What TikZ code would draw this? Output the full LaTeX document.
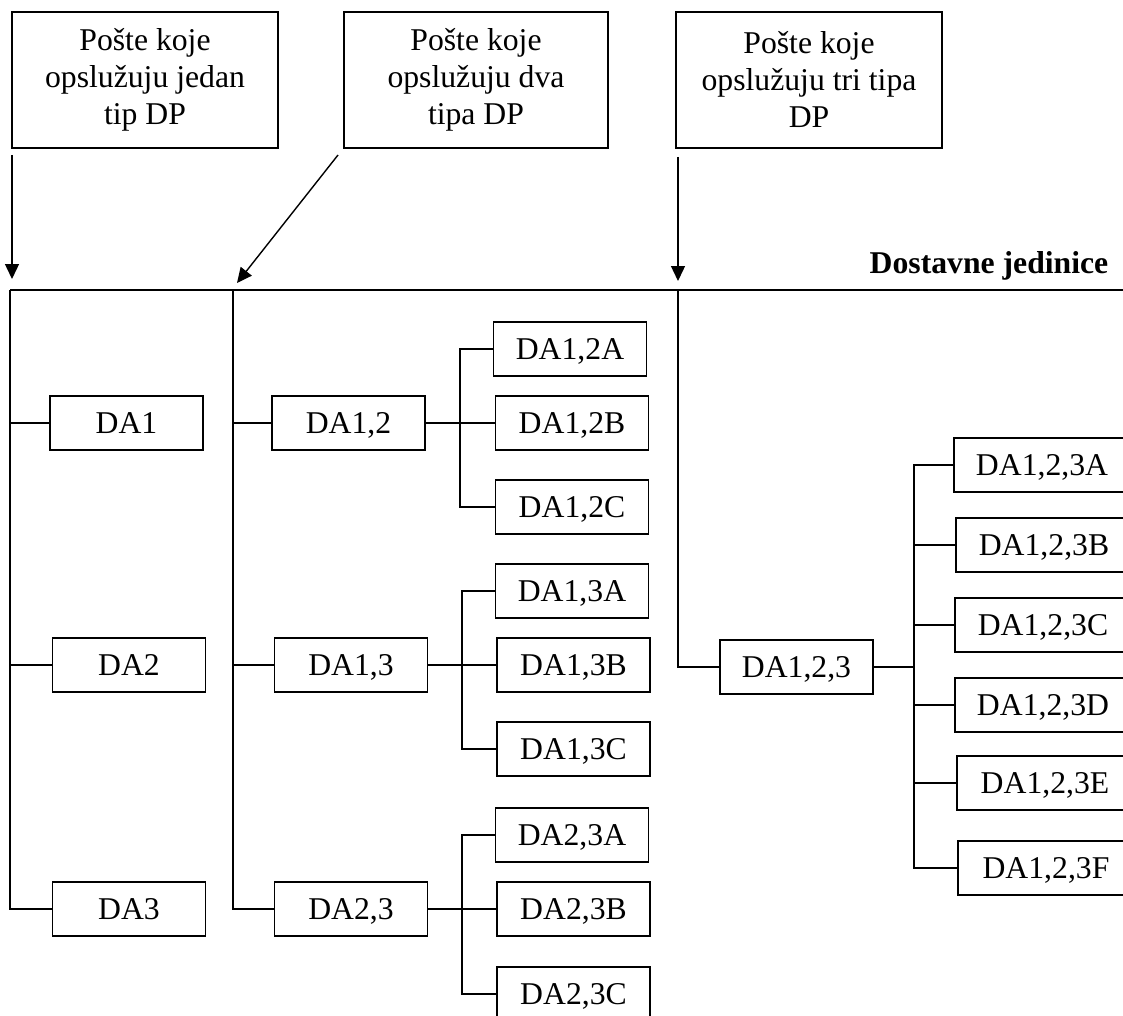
\documentclass[tikz,border=0pt]{standalone}
\usepackage{fontspec}
\setmainfont{Liberation Serif}
\usetikzlibrary{arrows.meta,calc}
\begin{document}
\begin{tikzpicture}[x=1pt,y=-1pt,
  line width=1.4pt,
  da/.style={draw, line width=1.3pt, minimum width=153pt, minimum height=54pt, inner sep=0pt,
    text height=21pt, text depth=0pt, font=\fontsize{31.7}{37}\selectfont},
  dawide/.style={da, minimum width=176pt},
  topbox/.style={draw, line width=1.3pt, minimum height=136pt, inner sep=0pt, align=center,
    font=\fontsize{31.7}{37}\selectfont},
  arr/.style={-{Triangle[length=15pt,width=14pt]}}
]
\useasboundingbox (0,0) rectangle (1123,1016);

% top boxes
\node[topbox, minimum width=266pt] (t1) at (145,80) {Pošte koje\\opslužuju jedan\\tip DP};
\node[topbox, minimum width=264pt] (t2) at (476,80) {Pošte koje\\opslužuju dva\\tipa DP};
\node[topbox, minimum width=266pt] (t3) at (809,80) {Pošte koje\\opslužuju tri tipa\\DP};

% arrows
\coordinate (a1s) at (12,155);  \coordinate (a1e) at (12,279);
\coordinate (a2s) at (338,155); \coordinate (a2e) at (237,283);
\coordinate (a3s) at (678,157); \coordinate (a3e) at (678,281);
\draw[arr] (a1s) -- (a1e);
\draw[arr] (a2s) -- (a2e);
\draw[arr] (a3s) -- (a3e);

% heading and main line
\node[anchor=base east, font=\fontsize{31.7}{37}\selectfont\bfseries, inner sep=0pt] (head) at (1109,273) {Dostavne jedinice};
\coordinate (hL) at (10,290);
\coordinate (hR) at (1130,290);
\draw (hL) -- (hR);
\coordinate (c1) at (10,290);
\coordinate (c2) at (233,290);
\coordinate (c3) at (678,290);

% column 1
\node[da] (n1) at (126.5,423) {DA1};
\node[da] (n2) at (129,665) {DA2};
\node[da] (n3) at (129,909) {DA3};

% column 2
\node[da] (n12) at (348.5,423) {DA1,2};
\node[da] (n13) at (351,665) {DA1,3};
\node[da] (n23) at (351,909) {DA2,3};

\node[da] (n12A) at (570,349) {DA1,2A};
\node[da] (n12B) at (572,423) {DA1,2B};
\node[da] (n12C) at (572,507) {DA1,2C};
\node[da] (n13A) at (572,591) {DA1,3A};
\node[da] (n13B) at (573.5,665) {DA1,3B};
\node[da] (n13C) at (573.5,749) {DA1,3C};
\node[da] (n23A) at (572,835) {DA2,3A};
\node[da] (n23B) at (573.5,909) {DA2,3B};
\node[da] (n23C) at (573.5,994) {DA2,3C};

% column 3
\node[da] (n123) at (796.5,667) {DA1,2,3};
\node[dawide] (n123A) at (1042,465) {DA1,2,3A};
\node[dawide] (n123B) at (1044,545) {DA1,2,3B};
\node[dawide] (n123C) at (1043,625) {DA1,2,3C};
\node[dawide] (n123D) at (1043,705) {DA1,2,3D};
\node[dawide] (n123E) at (1045,783) {DA1,2,3E};
\node[dawide] (n123F) at (1046,868) {DA1,2,3F};

% column connectors
\draw (c1) |- (n3.west);
\draw (n1.west -| c1) -- (n1.west);
\draw (n2.west -| c1) -- (n2.west);

\draw (c2) |- (n23.west);
\draw (n12.west -| c2) -- (n12.west);
\draw (n13.west -| c2) -- (n13.west);

\draw (c3) |- (n123.west);

% branches
\coordinate (b12) at (460,423);
\draw (n12.east) -- (n12B.west);
\draw (n12A.west) -| (b12) |- (n12C.west);

\coordinate (b13) at (462,665);
\draw (n13.east) -- (n13B.west);
\draw (n13A.west) -| (b13) |- (n13C.west);

\coordinate (b23) at (462,909);
\draw (n23.east) -- (n23B.west);
\draw (n23A.west) -| (b23) |- (n23C.west);

\coordinate (b123) at (914,667);
\draw (n123.east) -- (b123);
\draw (n123A.west) -| (b123) |- (n123F.west);
\draw (n123B.west -| b123) -- (n123B.west);
\draw (n123C.west -| b123) -- (n123C.west);
\draw (n123D.west -| b123) -- (n123D.west);
\draw (n123E.west -| b123) -- (n123E.west);
\end{tikzpicture}
\end{document}
